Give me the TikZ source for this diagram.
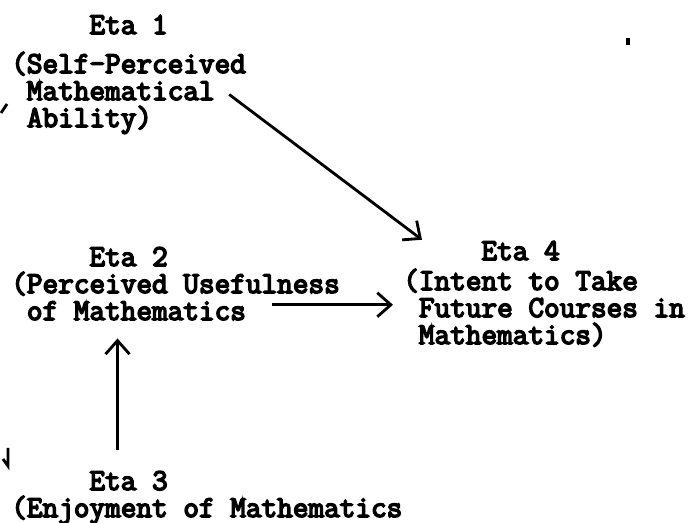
\documentclass[tikz,border=0pt]{standalone}
\usepackage{fontspec}
\newfontfamily\typefont{Latin Modern Mono}[FakeBold=5]
\usepackage{tikz}
\usetikzlibrary{
    arrows.meta,
    calc
}

\begin{document}
\begin{tikzpicture}[x=0.025cm,y=-0.025cm,
    lbl/.style={font=\typefont\fontsize{21.6}{19.2}\selectfont,
        align=left,anchor=base west,inner sep=0pt},
    arr/.style={line width=2pt,-{Straight Barb[length=3.4mm,width=6mm,line width=2pt]}}]
\useasboundingbox (0,0) rectangle (693,523);

% base of a block = base of its last line
\node[lbl] (eta1) at (11,127) {\hphantom{00000}Eta 1\\[0.3cm]
    (Self-Perceived\\ \hphantom{0}Mathematical\\ \hphantom{0}Ability)};
\node[lbl] (eta2) at (11,320) {\hphantom{00000}Eta 2\\
    (Perceived Usefulness\\ \hphantom{0}of Mathematics};
\node[lbl] (eta3) at (11,517) {\hphantom{00000}Eta 3\\
    (Enjoyment of Mathematics};
\node[lbl] (eta4) at (403,344) {\hphantom{00000}Eta 4\\[0.075cm]
    (Intent to Take\\ \hphantom{0}Future Courses in\\ \hphantom{0}Mathematics)};

\coordinate (tip1) at ($(eta4.north west)+(19,-1)$);
\coordinate (tip2) at ($(eta4.west)+(-10,11)$);
\coordinate (tip3) at ($(eta2.south)+(-58,18)$);

\draw[arr] ($(eta1.east)+(-17,20)$) -- (tip1);
\draw[arr] (tip2 -| eta2.east) ++(-68,0) -- (tip2);
\draw[arr] (tip3 |- eta3.north) ++(0,-21) -- (tip3);

% cut-off marks at the edges of the scan
\draw[line width=2pt] (1,113) -- (7,104);
\draw[line width=2pt] (8,448) -- (8,466) -- (3,459);
\draw[line width=2.4pt] (628,38) -- (628,45);
\end{tikzpicture}
\end{document}
